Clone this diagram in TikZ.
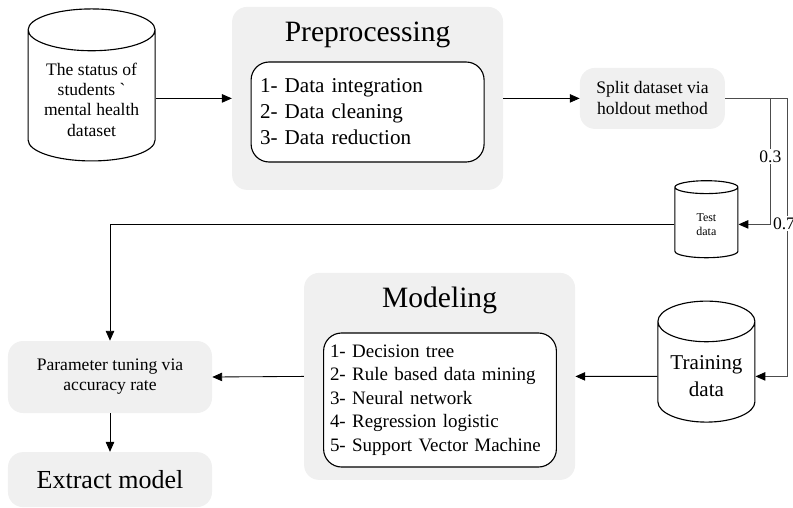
\documentclass[tikz,border=0pt]{standalone}
\usepackage{fontspec}
\setmainfont{Liberation Serif}
\usetikzlibrary{shapes.geometric, arrows.meta, positioning, calc}

\begin{document}
\begin{tikzpicture}[>={Triangle[length=7pt,width=6pt]},
  conn/.style={->, line width=0.6pt},
  split line/.style={-{Triangle[length=7pt,width=6pt,black]}, line width=0.6pt, draw=black!70},
  grp/.style={fill=black!6, rounded corners=0.375cm, minimum width=6.775cm},
  lst/.style={draw, line width=0.8pt, fill=white, rounded corners=0.45cm, align=left, inner xsep=0.16cm, text width=5.5cm},
  soft/.style={fill=black!6, rounded corners=0.375cm, align=center},
  db/.style={cylinder, shape border rotate=90, draw, line width=0.8pt, align=center},
  lbl/.style={fill=white, inner sep=1pt, font=\fontsize{12.5}{14}\selectfont}]
\useasboundingbox (0,0) rectangle (19.825,-12.7);

% source data
\node[db, aspect=0.4, minimum width=3.175cm, minimum height=3.8cm,
  font=\fontsize{12.5}{14.4}\selectfont] (data) at (2.29,-2.49)
  {The status of\\students \textasciigrave\\mental health\\dataset};

% preprocessing
\node[grp, minimum height=4.575cm] (prep) at (9.19,-2.46) {};
\node[font=\fontsize{21}{24}\selectfont] (preptitle) at (9.19,-0.875) {Preprocessing};
\node[lst, minimum height=2.5cm, inner xsep=0.225cm, text width=5.375cm,
  font=\fontsize{15}{18.5}\selectfont] (preplist) at (9.19,-2.8)
  {1- Data integration\\2- Data cleaning\\3- Data reduction};

% holdout
\node[soft, minimum width=3.625cm, minimum height=1.525cm,
  font=\fontsize{12.5}{15}\selectfont] (split) at (16.31,-2.46) {Split dataset via\\holdout method};
\node[db, aspect=0.44, minimum width=1.575cm, minimum height=1.925cm,
  font=\fontsize{8.5}{10}\selectfont] (test) at (17.66,-5.61) {Test\\data};
\node[db, aspect=0.5, minimum width=2.425cm, minimum height=3.025cm,
  font=\fontsize{15}{19}\selectfont] (train) at (17.66,-9.41) {Training\\data};

% modeling
\node[grp, minimum height=5.175cm] (mod) at (10.99,-9.41) {};
\node[font=\fontsize{21}{24}\selectfont] (modtitle) at (10.99,-7.5) {Modeling};
\node[lst, minimum height=3.35cm, font=\fontsize{13.5}{16.8}\selectfont] (modlist) at (11.0,-10.0)
  {1- Decision tree\\2- Rule based data mining\\3- Neural network\\4- Regression logistic\\5- Support Vector Machine};

% evaluation
\node[soft, minimum width=5.1cm, minimum height=1.8cm,
  font=\fontsize{12.5}{14.2}\selectfont] (param) at (2.75,-9.425) {Parameter tuning via\\accuracy rate};
\node[soft, minimum width=5.1cm, minimum height=1.375cm,
  font=\fontsize{18.5}{22}\selectfont] (extract) at (2.75,-11.99) {Extract model};

\draw[conn] (data.east |- prep.west) -- (prep.west);
\draw[conn] (prep.east) -- (split.west);
\draw[split line] (split.east) -- ++(1.13,0) |- (test.east) node[lbl, pos=0.23]{0.3};
\draw[split line] (split.east) -- ++(1.55,0) |- (train.east) node[lbl, pos=0.225, xshift=-0.08cm]{0.7};
\draw[conn] (test.west) -| (param.north);
\draw[conn] (train.west) -- (mod.east);
\draw[conn] (mod.west) -- (param.east);
\draw[conn] (param.south) -- (extract.north);
\end{tikzpicture}
\end{document}
